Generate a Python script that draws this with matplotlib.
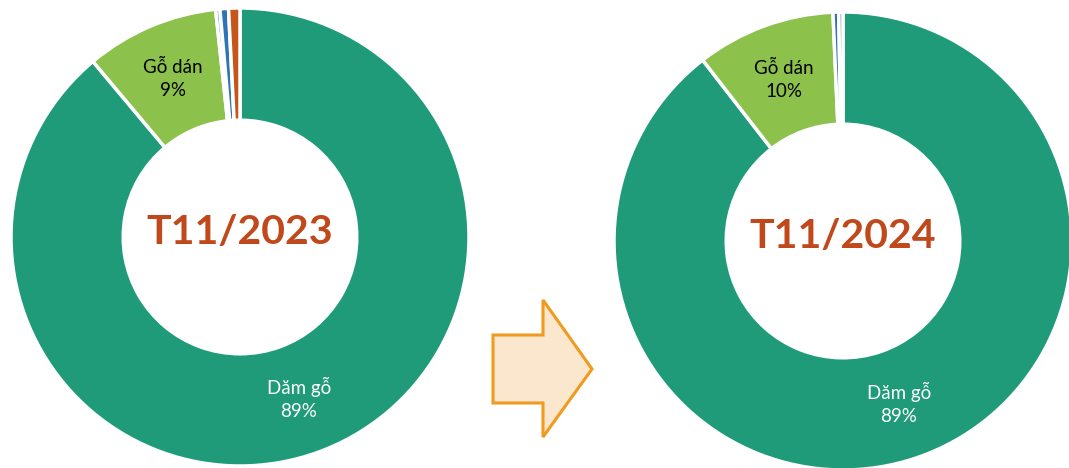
import numpy as np
import matplotlib
matplotlib.use("Agg")
import matplotlib.pyplot as plt
from matplotlib.patches import Polygon

plt.rcParams['font.family'] = ['Lato', 'DejaVu Sans']

# Data
titles = ["T11/2023", "T11/2024"]
categories_2023 = ["Dăm gỗ", "Gỗ dán", "Khác 1", "Khác 2", "Khác 3"]
values_2023 = [88.9, 9.4, 0.3, 0.6, 0.8]
colors_2023 = ["#1F9B79", "#8CC14B", "#5AAAD8", "#2F75B5", "#C5561B"]
categories_2024 = ["Dăm gỗ", "Gỗ dán", "Khác 1", "Khác 2"]
values_2024 = [89.5, 9.8, 0.4, 0.3]
colors_2024 = ["#1F9B79", "#8CC14B", "#2F75B5", "#7FA597"]
labels_2023 = {"Dăm gỗ": "Dăm gỗ\n89%", "Gỗ dán": "Gỗ dán\n9%"}
labels_2024 = {"Dăm gỗ": "Dăm gỗ\n89%", "Gỗ dán": "Gỗ dán\n10%"}

W, H = 1069, 468
fig = plt.figure(figsize=(W / 100, H / 100), dpi=100)

def donut(cx, cy, r, cats, vals, cols, labs, title):
    ax = fig.add_axes([(cx - r) / W, (H - cy - r) / H, 2 * r / W, 2 * r / H])
    wedges, _ = ax.pie(vals, colors=cols, startangle=90, counterclock=False,
                       radius=1, wedgeprops=dict(width=0.49, edgecolor="white", linewidth=2.5))
    for w in wedges:
        w.set_clip_on(False)
    for w, c in zip(wedges, cats):
        if c in labs:
            ang = np.deg2rad((w.theta1 + w.theta2) / 2)
            rr = 0.75
            col = "white" if c == "Dăm gỗ" else "black"
            ax.text(rr * np.cos(ang), rr * np.sin(ang), labs[c], ha="center", va="center",
                    fontsize=13.5, color=col, linespacing=1.4)
    ax.text(0, 0.02, title, ha="center", va="center", fontsize=29.5, fontweight="bold",
            color="#C0481A")
    ax.set_xlim(-1, 1)
    ax.set_ylim(-1, 1)
    ax.set_aspect("equal")
    ax.axis("off")
    return ax

donut(240, 237, 229, categories_2023, values_2023, colors_2023, labels_2023, titles[0])
donut(843, 241, 229, categories_2024, values_2024, colors_2024, labels_2024, titles[1])

# Arrow
axa = fig.add_axes([0, 0, 1, 1], zorder=-1)
axa.set_xlim(0, W)
axa.set_ylim(H, 0)
axa.axis("off")
pts = [(493, 335), (543, 335), (543, 300), (592, 369), (543, 437), (543, 403), (493, 403)]
axa.add_patch(Polygon(pts, closed=True, facecolor="#FBE6CE", edgecolor="#F09A1E", linewidth=2.2))

fig.savefig("out.png", dpi=100)
